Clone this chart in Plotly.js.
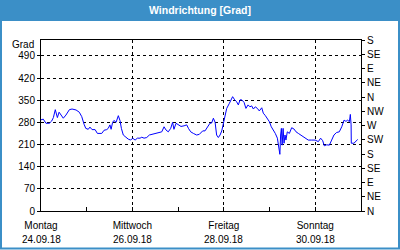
<!DOCTYPE html>
<html><head><meta charset="utf-8">
<script src="https://cdn.plot.ly/plotly-3.0.1.min.js"></script>
<style>html,body{margin:0;padding:0;background:#fff}#c{width:400px;height:250px}</style>
</head><body><div id="c"></div>
<script>
// hours since 24.09.18 00:00
const hours = [0,1.2,2.6,4.4,5.6,6.5,7.5,8.6,9.5,10.3,11.7,13.1,14.9,16.3,18.4,20.1,21.4,22.6,23.5,24.8,25.7,26.8,28.4,29.6,31.9,33.1,34.5,35.3,36.2,36.8,37.6,38.3,39.4,40.6,41.5,42.2,
43.2,44.6,45.8,47.1,48.1,49.4,50.6,52,52.9,54.1,55.5,56.9,58.1,59.9,61.6,63.4,64.6,65.6,66.8,68.1,69.1,69.8,70.9,72.1,73.5,75.1,76.5,77.5,78.6,80,81.7,83.1,84.2,
84.9,86.1,87.3,88.7,89.6,90.5,91.4,92.2,93.1,94,94.9,95.7,96.6,97.5,98.9,99.9,100.6,101.7,102.7,103.6,104.5,105.4,106.6,107.6,108.7,109.7,110.6,111.5,112.5,113.6,114.6,115.9,116.7,117.8,118.8,119.9,120.9,122,123,124.1,124.8,125.4,125.8,126.2,
126.6,127.1,127.6,128.1,128.6,129.3,130.4,131.6,132.8,133.9,135.1,136.3,137.4,138.6,140.3,142.1,143.9,145.6,146.8,147.9,148.7,150,151.4,152.6,153.8,155.2,156.6,157.9,159.1,160.1,161,161.9,162.4,162.8,162.9,164.3,165.4,166.3];
const direction = [288,290,277,277,284,295,320,295,312,305,293,303,320,322,319,312,298,274,261,258,265,257,257,245,245,255,257,261,272,258,280,286,280,301,285,261,
240,233,227,224,230,224,230,230,233,230,232,240,242,245,247,250,266,256,250,261,280,258,277,272,267,269,272,260,250,245,240,242,250,
253,253,263,277,278,293,280,240,232,240,253,277,309,324,340,356,361,351,345,335,351,351,343,324,335,329,332,322,329,324,316,326,309,301,293,282,266,256,245,230,198,179,240,261,
208,261,214,240,224,250,245,263,259,250,245,240,235,230,224,224,224,219,230,222,206,209,208,224,240,248,250,266,287,283,287,282,305,272,214,214,219,226];

const tickDates = ['2018-09-24','2018-09-26','2018-09-28','2018-09-30'];
const dayNames = ['Montag','Mittwoch','Freitag','Sonntag'];
const dateLabels = ['24.09.18','26.09.18','28.09.18','30.09.18'];
const leftTicks = [0,70,140,210,280,350,420,490];
const compassVals = [0,45,90,135,180,225,270,315,360,405,450,495,540];
const compassText = ['N','NE','E','SE','S','SW','W','NW','N','NE','E','SE','S'];

const base = Date.UTC(2018,8,24);
const xs = hours.map(h => base + h*3600000);

const W=400,H=250,L=41,R=39,T=40,B=39;
const pw=W-L-R, ph=H-T-B;
const px = v => (v-L)/pw;
const py = v => (H-B-v)/ph;
const FONT = 'Liberation Sans, Arial, sans-serif';
const blue = '#3b8fc7';

const traces = [
  {x: xs, y: direction, type:'scatter', mode:'lines', line:{color:'#0000ff', width:1}, hoverinfo:'skip', showlegend:false},
  {x: [xs[0]], y: [direction[0]], yaxis:'y2', type:'scatter', mode:'lines', line:{width:0}, hoverinfo:'skip', showlegend:false}
];

const annotations = dateLabels.map((t,i)=>({
  x: tickDates[i], xref:'x', y: py(239), yref:'paper', text: t, showarrow:false,
  xanchor:'center', yanchor:'middle', font:{family:FONT, size:10, color:'#000'}
}));
annotations.push({x: px(36), xref:'paper', y: py(44), yref:'paper', text:'Grad', showarrow:false,
  xanchor:'right', yanchor:'middle', xshift:0, font:{family:FONT, size:10, color:'#000'}});

const layout = {
  width:W, height:H, margin:{l:L, r:R, t:T, b:B, pad:0},
  paper_bgcolor:'#ffffff', plot_bgcolor:'#ffffff',
  title:{text:'Windrichtung [Grad]', x:0.5, xanchor:'center', y:1-10/H, yanchor:'middle',
    font:{family:FONT, size:10.5, color:'#ffffff', weight:700}},
  xaxis:{type:'date', range:[base, base+7*86400000], tickvals: tickDates, ticktext: dayNames,
    ticks:'inside', ticklen:4, tickcolor:'#000', showgrid:true, gridcolor:'#000', griddash:'3px,3px', gridwidth:1,
    minor:{dtick:86400000, tick0:'2018-09-24', ticks:'inside', ticklen:4, tickcolor:'#000', showgrid:false},
    ticklabelstandoff:5,
    showline:true, linecolor:'#000', linewidth:1, mirror:true, zeroline:false,
    tickfont:{family:FONT, size:10, color:'#000'}, fixedrange:true},
  yaxis:{range:[0,540], tickvals:leftTicks, ticks:'outside', ticklen:3, tickcolor:'#000',
    showgrid:true, gridcolor:'#000', griddash:'3px,3px', gridwidth:1,
    showline:true, linecolor:'#000', linewidth:1, zeroline:false,
    tickfont:{family:FONT, size:10, color:'#000'}, fixedrange:true},
  yaxis2:{range:[0,540], overlaying:'y', side:'right', tickvals:compassVals, ticktext:compassText,
    ticks:'outside', ticklen:3, tickcolor:'#000', showgrid:false, showline:true, linecolor:'#000', linewidth:1, zeroline:false,
    tickfont:{family:FONT, size:10, color:'#000'}, fixedrange:true},
  shapes:[
    {type:'rect', xref:'paper', yref:'paper', x0:px(0), x1:px(400), y0:py(20), y1:py(0), fillcolor:blue, line:{width:0}, layer:'below'},
    {type:'rect', xref:'paper', yref:'paper', x0:px(1), x1:px(399), y0:py(248.5), y1:py(20), fillcolor:'rgba(0,0,0,0)', line:{width:2, color:blue}}
  ],
  annotations: annotations,
  showlegend:false
};
Plotly.newPlot('c', traces, layout, {displayModeBar:false, staticPlot:true});
</script></body></html>
